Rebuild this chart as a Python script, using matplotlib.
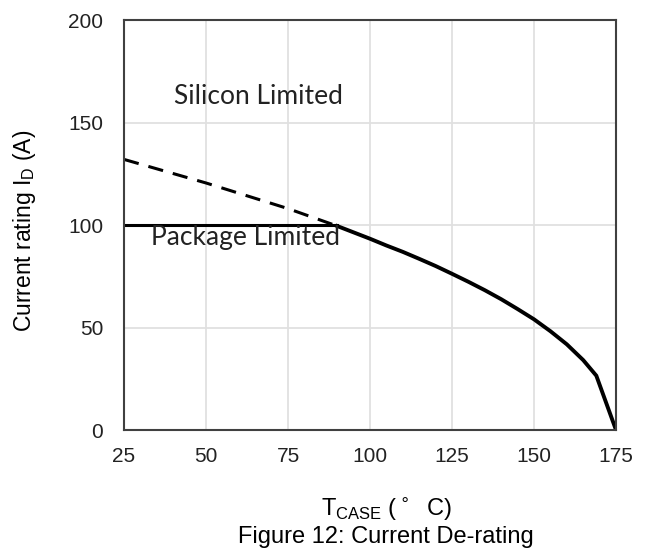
import numpy as np
import matplotlib.pyplot as plt

# silicon-limited rating (A) vs case temperature (C)
t_si = [25, 50, 75, 90, 100, 105, 110, 115, 120, 125, 130, 135, 140, 145,
        150, 155, 160, 165, 169, 175]
i_si = [132, 120.5, 108, 99.5, 93.3, 90, 86.9, 83.5, 80, 76.2, 72.3, 68.2,
        63.8, 59, 54, 48.2, 41.8, 34.1, 26.5, 0]
t_cross = 90
# package limit
t_pkg = [25, 90]
i_pkg = [100, 100]

x_ticks = [25, 50, 75, 100, 125, 150, 175]
y_ticks = [0, 50, 100, 150, 200]

plt.rcParams['font.family'] = ['Liberation Sans', 'DejaVu Sans']
fig = plt.figure(figsize=(6.47, 5.52), dpi=100)
ax = fig.add_axes([124/647, 1-430/552, (616-124)/647, (430-20)/552])

t_si = np.array(t_si)
i_si = np.array(i_si)
dashed = t_si <= t_cross
solid = t_si >= t_cross
ax.plot(t_si[dashed], i_si[dashed], color='black', lw=2.2, dashes=(5, 3.3))
ax.plot(t_si[solid], i_si[solid], color='black', lw=2.8, solid_joinstyle='miter')
ax.plot(t_pkg, i_pkg, color='black', lw=2.2)

ax.set_xlim(25, 175)
ax.set_ylim(0, 200)
ax.set_xticks(x_ticks)
ax.set_yticks(y_ticks)
ax.tick_params(length=0, labelsize=15, colors='#222222')
ax.tick_params(axis='y', pad=15)
ax.tick_params(axis='x', pad=12)
ax.grid(True, color='#e0e0e0', lw=1.3)
ax.set_axisbelow(True)
for s in ax.spines.values():
    s.set_color('#404040')
    s.set_linewidth(1.5)

ax.text(66, 162.6, 'Silicon Limited', fontsize=19, family=['Lato', 'DejaVu Sans'],
        color='#222222', ha='center', va='center')
ax.text(62, 94, 'Package Limited', fontsize=19, family=['Lato', 'DejaVu Sans'],
        color='#222222', ha='center', va='center')

fig.text(25/647, 1-231/552, 'Current rating I$_\\mathregular{D}$ (A)', fontsize=16.5,
         rotation=90, ha='center', va='center')
fig.text(387/647, 1-509/552, 'T$_\\mathregular{CASE}$ ($^\\circ$  C)', fontsize=17,
         ha='center', va='center')
fig.text(386/647, 1-537/552, 'Figure 12: Current De-rating', fontsize=17,
         ha='center', va='center')

fig.savefig('out.png', dpi=100)
